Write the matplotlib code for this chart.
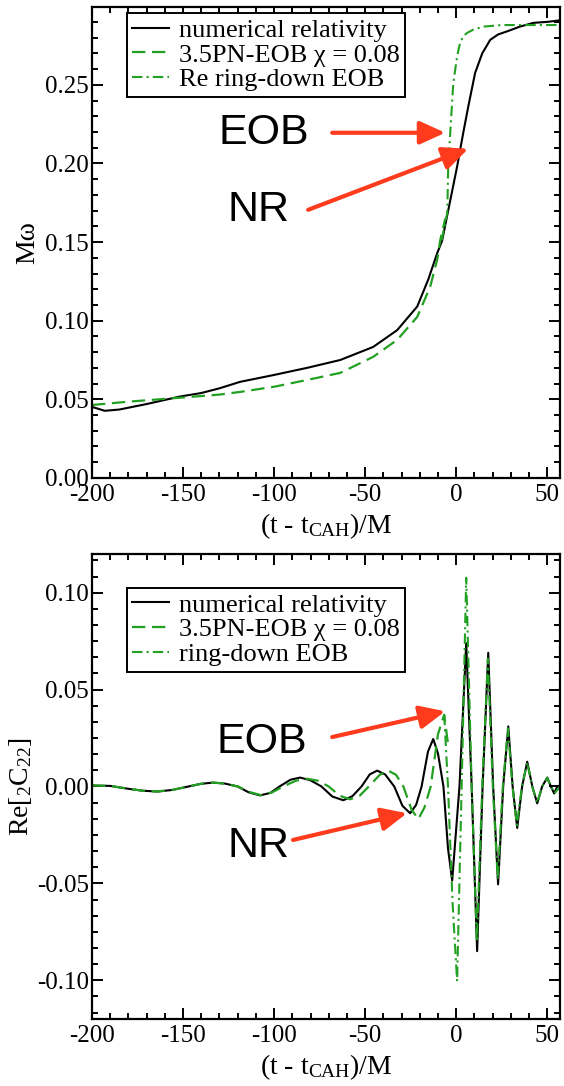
import matplotlib
matplotlib.use("Agg")
import matplotlib.pyplot as plt
from matplotlib.ticker import MultipleLocator, AutoMinorLocator, FormatStrFormatter

plt.rcParams["font.family"] = ["Liberation Serif", "DejaVu Serif"]
plt.rcParams["mathtext.fontset"] = "custom"
plt.rcParams["mathtext.rm"] = "Liberation Serif"
plt.rcParams["mathtext.it"] = "Liberation Serif:italic"
plt.rcParams["axes.unicode_minus"] = False

# ---- top panel: frequency M*omega ----
nr_freq_t = [-200, -193, -185, -170, -152, -140, -130, -118.7, -100, -81.9, -63.7,
             -45.6, -32.4, -21.4, -15.4, -10.4, -7.7, -4.4, 0.5, 3.8, 6.6, 10.4,
             14.3, 18.7, 23, 28, 35, 42.5, 50, 57]
nr_freq = [0.0452, 0.0427, 0.0435, 0.047, 0.0517, 0.054, 0.057, 0.0611, 0.0655,
           0.070, 0.075, 0.0833, 0.094, 0.109, 0.126, 0.143, 0.151, 0.170, 0.198,
           0.219, 0.236, 0.2576, 0.270, 0.2786, 0.282, 0.284, 0.287, 0.2894,
           0.290, 0.291]

eob_freq_t = [-200, -180, -152, -130, -118.7, -100, -81.9, -63.7, -45.6, -32.4,
              -21.4, -14.3, -10.4, -8.8, -6]
eob_freq = [0.0464, 0.0485, 0.051, 0.053, 0.0547, 0.058, 0.0623, 0.0668, 0.077,
            0.0878, 0.1024, 0.1215, 0.139, 0.151, 0.165]

rd_freq_t = [-8, -4.9, -4.4, -1.6, 0.5, 2.2, 4, 6, 9.3, 15, 25, 40, 57]
rd_freq = [0.151, 0.1686, 0.198, 0.251, 0.268, 0.277, 0.281, 0.283, 0.285, 0.287,
           0.288, 0.288, 0.288]

# ---- bottom panel: Re[C22] ----
nr_wave_t = [-200, -190, -180, -172, -164, -156, -148, -140, -133.5, -127, -120,
             -114, -107.7, -102, -97, -91, -85.7, -80, -74, -68, -62, -57, -52,
             -47.5, -43.4, -39, -34, -29.5, -25.3, -22, -19, -15.5, -12.6, -10,
             -7, -4.5, -2.2, 1.8, 5.5, 8.5, 11.5, 14.5, 17.6, 20.3, 23, 25.8, 28.6,
             31, 33.5, 36.2, 39, 41.8, 44.5, 47.2, 50, 52, 53.8, 55.5, 57]
nr_wave = [0.0005, 0.0003, -0.0012, -0.0022, -0.0026, -0.0018, -0.0002, 0.0014,
           0.002, 0.0015, 0.0, -0.003, -0.0046, -0.0033, 0.0, 0.0035, 0.0046,
           0.0032, 0.0, -0.0052, -0.0071, -0.005, 0.0, 0.0062, 0.0082, 0.0062, 0.0,
           -0.010, -0.0138, -0.0095, 0.0, 0.018, 0.0245, 0.017, 0.0, -0.032,
           -0.0485, 0.0, 0.074, 0.0, -0.085, 0.0, 0.069, 0.0, -0.0505, 0.0, 0.031,
           0.0, -0.0214, 0.0, 0.0128, 0.0, -0.0087, 0.0, 0.0046, 0.0, -0.0036, 0.0,
           0.0005]

eob_wave_t = [-200, -190, -180, -172, -164, -156, -148, -140, -133.5, -127, -120,
              -113, -107, -101, -95, -88, -82, -76, -70, -64, -58.2, -53, -48, -42,
              -37.4, -33, -29, -24.5, -20.8, -17.5, -14, -10, -6.6, -4.5]
eob_wave = [0.0005, 0.0003, -0.0012, -0.0022, -0.0026, -0.0018, -0.0002, 0.0014,
            0.002, 0.0015, 0.0, -0.003, -0.0045, -0.003, 0.0, 0.003, 0.004, 0.003,
            0.0, -0.0048, -0.0066, -0.0048, 0.0, 0.006, 0.0082, 0.006, 0.0, -0.012,
            -0.0168, -0.011, 0.0, 0.027, 0.037, 0.022]

rd_wave_t = [-6.6, -4.5, -2, 0.5, 3, 5.5, 8.5, 11.3, 14.3, 17.4, 20.1, 22.8, 25.6,
             28.4, 30.9, 33.3, 36.1, 39, 41.7, 44.5, 47.2, 50, 52, 54, 57]
rd_wave = [0.037, 0.0, -0.06, -0.1005, 0.0, 0.1077, 0.0, -0.08, 0.0, 0.066, 0.0,
           -0.048, 0.0, 0.03, 0.0, -0.02, 0.0, 0.0125, 0.0, -0.0085, 0.0, 0.0045,
           0.0, -0.0035, 0.0]

labels_top = ["numerical relativity", "3.5PN-EOB χ = 0.08", "Re ring-down EOB"]
labels_bottom = ["numerical relativity", "3.5PN-EOB χ = 0.08", "ring-down EOB"]

green = "#22a022"
red = "#ff3b1e"

fig = plt.figure(figsize=(5.64, 10.86), dpi=100)
ax1 = fig.add_axes([0.1631, 0.5599, 0.8298, 0.4337])
ax2 = fig.add_axes([0.1631, 0.0617, 0.8298, 0.4282])


def style_axes(ax, ymajor, nminor):
    ax.set_xlim(-200, 57)
    ax.xaxis.set_major_locator(MultipleLocator(50))
    ax.xaxis.set_minor_locator(AutoMinorLocator(5))
    ax.yaxis.set_major_locator(MultipleLocator(ymajor))
    ax.yaxis.set_minor_locator(AutoMinorLocator(nminor))
    ax.yaxis.set_major_formatter(FormatStrFormatter("%.2f"))
    ax.tick_params(which="both", direction="in", top=True, right=True,
                   labelsize=18, width=1.4)
    ax.tick_params(which="major", length=8)
    ax.tick_params(which="minor", length=4)
    ax.tick_params(axis="y", pad=2)
    ax.tick_params(axis="x", pad=4)
    for s in ax.spines.values():
        s.set_linewidth(1.6)
    ax.set_xlabel(r"(t - t$_{\mathrm{CAH}}$)/M", fontsize=20, labelpad=4)


def add_legend(ax, labels, top):
    leg = ax.legend(labels, loc="upper left", bbox_to_anchor=(0.075, top),
                    borderaxespad=0, fontsize=19, frameon=True, fancybox=False,
                    edgecolor="black", framealpha=1, labelspacing=0.05,
                    borderpad=0.2, handlelength=1.4, handletextpad=0.35)
    leg.get_frame().set_linewidth(1.4)


def arrow(ax, tail, tip):
    ax.annotate("", xy=tip, xytext=tail,
                arrowprops=dict(arrowstyle="-|>,head_length=0.55,head_width=0.25",
                                color=red, lw=3, shrinkA=0, shrinkB=0,
                                mutation_scale=28))


# top panel
ax1.plot(nr_freq_t, nr_freq, color="black", lw=1.5)
ax1.plot(eob_freq_t, eob_freq, color=green, lw=1.6, dashes=(6, 3))
ax1.plot(rd_freq_t, rd_freq, color=green, lw=1.5, dashes=(5, 2, 1, 2))
ax1.set_ylim(0, 0.2995)
style_axes(ax1, 0.05, 5)
ax1.set_ylabel("Mω", fontsize=20, labelpad=4)
add_legend(ax1, labels_top, 0.987)

ax1.text(-105.5, 0.2195, "EOB", fontsize=31, family="Liberation Sans",
         ha="center", va="center")
ax1.text(-108.8, 0.1705, "NR", fontsize=31, family="Liberation Sans",
         ha="center", va="center")
arrow(ax1, (-68.1, 0.2195), (-6.0, 0.2195))
arrow(ax1, (-81.3, 0.1705), (6.6, 0.2093))

# bottom panel
ax2.plot(nr_wave_t, nr_wave, color="black", lw=1.5)
ax2.plot(eob_wave_t, eob_wave, color=green, lw=1.6, dashes=(6, 3))
ax2.plot(rd_wave_t, rd_wave, color=green, lw=1.5, dashes=(5, 2, 1, 2))
ax2.set_ylim(-0.12, 0.12)
style_axes(ax2, 0.05, 6)
ax2.set_ylabel(r"Re[$_{2}$C$_{22}$]", fontsize=20, labelpad=2)
add_legend(ax2, labels_bottom, 0.927)

ax2.text(-106.6, 0.023, "EOB", fontsize=31, family="Liberation Sans",
         ha="center", va="center")
ax2.text(-108.8, -0.0306, "NR", fontsize=31, family="Liberation Sans",
         ha="center", va="center")
arrow(ax2, (-68.1, 0.0255), (-6.0, 0.0388))
arrow(ax2, (-89.6, -0.0276), (-27.0, -0.0138))

fig.savefig("out.png", dpi=100)
